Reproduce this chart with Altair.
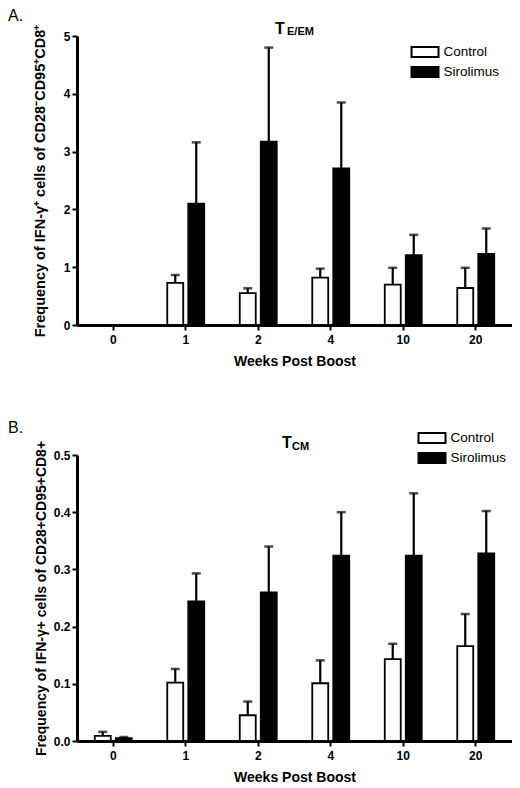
import altair as alt
import pandas as pd

weeks = ["0", "1", "2", "4", "10", "20"]
groups = ["Control", "Sirolimus"]

# Panel A: T E/EM  (no bars at week 0)
a_control = [None, 0.73, 0.55, 0.82, 0.70, 0.64]
a_control_sem = [None, 0.135, 0.085, 0.155, 0.29, 0.35]
a_sirolimus = [None, 2.10, 3.17, 2.71, 1.21, 1.23]
a_sirolimus_sem = [None, 1.06, 1.63, 1.14, 0.35, 0.44]

# Panel B: T CM
b_control = [0.009, 0.102, 0.045, 0.101, 0.143, 0.166]
b_control_sem = [0.007, 0.024, 0.024, 0.040, 0.027, 0.056]
b_sirolimus = [0.005, 0.244, 0.260, 0.324, 0.324, 0.328]
b_sirolimus_sem = [0.002, 0.049, 0.080, 0.076, 0.109, 0.074]

a_ticks = [0, 1, 2, 3, 4, 5]
b_ticks = [0.0, 0.1, 0.2, 0.3, 0.4, 0.5]

a_ytitle = "Frequency of IFN-\u03b3\u207a cells of CD28\u207bCD95\u207aCD8\u207a"
b_ytitle = "Frequency of IFN-\u03b3+ cells of CD28+CD95+CD8+"
xtitle = "Weeks Post Boost"

FONT = "Liberation Sans"


def frame(ctrl, ctrl_sem, siro, siro_sem):
    rows = []
    for i, w in enumerate(weeks):
        for g, v, s in (("Control", ctrl[i], ctrl_sem[i]),
                        ("Sirolimus", siro[i], siro_sem[i])):
            if v is None:
                continue
            rows.append({"week": w, "group": g, "mean": v, "upper": v + s})
    return pd.DataFrame(rows)


def text_layer(txt, size, weight, x, y):
    return alt.Chart(pd.DataFrame({"t": [txt]})).mark_text(
        font=FONT, fontSize=size, fontWeight=weight, color="black",
        align="left", baseline="alphabetic"
    ).encode(x=alt.value(x), y=alt.value(y), text="t:N")


def panel(df, ymax, ticks, yfmt, ytitle, ytitle_size, ytitle_pad, height,
          letter, letter_y, sub, t_x, t_y, s_x, s_y, leg_x, leg_y):
    x = alt.X("week:N", sort=weeks,
              scale=alt.Scale(domain=weeks, paddingInner=0.49, paddingOuter=0.245),
              axis=alt.Axis(title=xtitle, labelAngle=0, labelPadding=4,
                            titlePadding=9, titleFontSize=14))
    xo = alt.XOffset("group:N", sort=groups,
                     scale=alt.Scale(domain=groups, paddingInner=0.24, paddingOuter=0))
    y = alt.Y("mean:Q",
              scale=alt.Scale(domain=[0, ymax], nice=False, zero=True),
              axis=alt.Axis(values=ticks, format=yfmt, title=ytitle,
                            titlePadding=ytitle_pad, labelPadding=2,
                            titleFontSize=ytitle_size))
    bars = alt.Chart(df).mark_bar(stroke="black", strokeWidth=1.8).encode(
        x=x, xOffset=xo, y=y,
        fill=alt.Fill("group:N", sort=groups,
                      scale=alt.Scale(domain=groups, range=["white", "black"]),
                      legend=alt.Legend(
                          title=None, orient="none", legendX=leg_x, legendY=leg_y,
                          symbolType="M-1.35,-0.5H1.35V0.5H-1.35Z",
                          symbolSize=400, symbolStrokeColor="black",
                          symbolStrokeWidth=2, labelFont=FONT,
                          labelFontSize=13.5, labelColor="black",
                          labelOffset=7.5, rowPadding=0)),
    )
    rules = alt.Chart(df).mark_rule(color="black", strokeWidth=2.2).encode(
        x=x, xOffset=xo, y="mean:Q", y2="upper:Q")
    caps = alt.Chart(df).mark_tick(color="black", thickness=2.5, size=9,
                                   orient="horizontal").encode(
        x=x, xOffset=xo, y="upper:Q")
    texts = (text_layer(letter, 16, "normal", -69, letter_y)
             + text_layer("T", 16, "bold", t_x, t_y)
             + text_layer(sub, 11, "bold", s_x, s_y))
    return alt.layer(bars, rules, caps, texts).properties(width=435, height=height)


dfa = frame(a_control, a_control_sem, a_sirolimus, a_sirolimus_sem)
dfb = frame(b_control, b_control_sem, b_sirolimus, b_sirolimus_sem)

pa = panel(dfa, 5, a_ticks, "d", a_ytitle, 14.5, 16, 289,
           "A.", -15, "E/EM", 198, -2, 210, -1, 337, 5)
pb = panel(dfb, 0.5, b_ticks, ".1f", b_ytitle, 14, 5, 286,
           "B.", -22, "CM", 205, -7, 215, -5, 344, -28)

chart = alt.vconcat(pa, pb, spacing=52).resolve_scale(
    y="independent", fill="independent"
).resolve_legend(fill="independent").properties(
    padding={"left": 0, "top": 0, "right": 0, "bottom": 0}
).configure_view(stroke=None).configure_axis(
    domainColor="black", domainWidth=3, tickColor="black", tickWidth=2,
    tickSize=5, grid=False, labelFont=FONT, labelFontWeight="bold",
    labelFontSize=12, labelColor="black", titleFont=FONT,
    titleFontWeight="bold", titleColor="black"
)

chart.save("out.html", embed_options={"renderer": "svg", "actions": False})
